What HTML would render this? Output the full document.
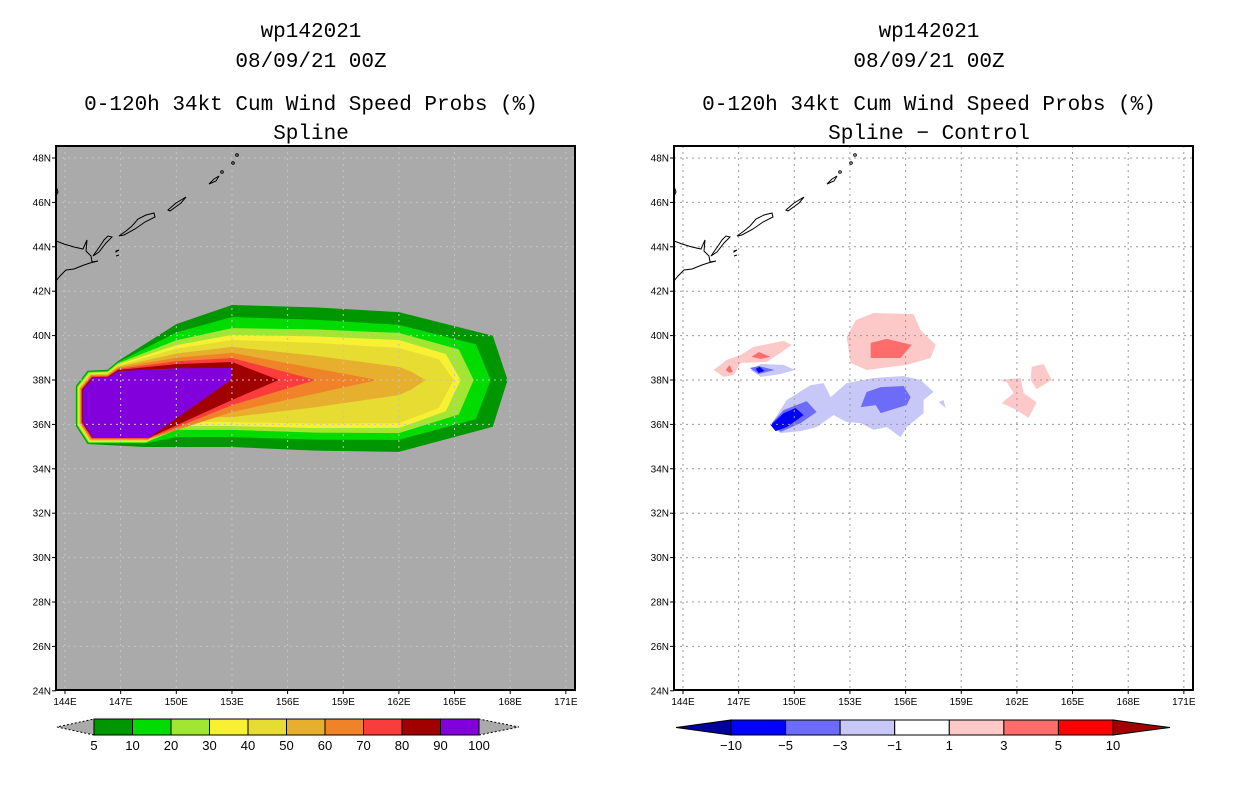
<!DOCTYPE html>
<html><head><meta charset="utf-8"><style>body{margin:0;background:#fff}svg{display:block}</style></head>
<body>
<svg id="svg" width="1236" height="800" xmlns="http://www.w3.org/2000/svg" font-family="Liberation Sans, sans-serif"></svg>
<script>
// ---- data ----
const levelLabels=[5,10,20,30,40,50,60,70,80,90,100];
const levelColors=['#009600','#00dc00','#a0e632','#f8f032','#e6dc32','#e6af2d','#f08228','#fa3c3c','#a00000','#8200dc'];
const topAt153=[41.38,40.84,40.34,40.03,39.8,39.49,39.22,38.99,38.81,38.54];
const topAt162=[41.06,40.48,40.12,39.8,39.44,38.59,null,null,null,null];
const tipLon=[167.86,166.95,166.03,165.33,164.95,163.44,160.85,157.51,155.52,152.93];
const botAt153=[34.98,35.43,35.75,35.93,36.11,36.33,36.56,36.87,37.1,37.95];
const botAt162=[34.76,35.3,35.61,35.84,36.06,37.32,null,null,null,null];
const diffLabels=['-10','-5','-3','-1','1','3','5','10'];
const diffColors=['#0000a0','#0000ff','#6c6cf8','#c8c8f8','#ffffff','#fcc8c8','#ff6c6c','#ff0000','#a00000'];
const diffBlobs=[
 {c:'#fcc8c8',p:[[152.82,39.94],[153.31,40.7],[154.28,41.02],[156.43,40.97],[156.81,40.25],[157.62,39.58],[157.35,38.99],[156.06,38.68],[153.9,38.45],[153.04,38.77]]},
 {c:'#ff6c6c',p:[[154.12,39.67],[154.98,39.85],[156.33,39.58],[155.73,38.99],[154.12,38.99]]},
 {c:'#fcc8c8',p:[[145.65,38.45],[146.35,38.9],[147.11,39.13],[147.81,39.49],[149.43,39.76],[149.86,39.58],[149.26,39.22],[148.51,38.81],[147.11,38.77],[146.73,38.23],[146.19,38.14]]},
 {c:'#ff6c6c',p:[[147.7,39.04],[148.08,39.26],[148.73,39.04],[148.19,38.95]]},
 {c:'#ff6c6c',p:[[146.3,38.45],[146.51,38.68],[146.68,38.36],[146.51,38.32]]},
 {c:'#c8c8f8',p:[[147.65,38.45],[148.19,38.72],[149.43,38.68],[150.02,38.45],[149.26,38.27],[148.19,38.14]]},
 {c:'#6c6cf8',p:[[147.6,38.54],[148.08,38.63],[148.94,38.45],[148.08,38.27]]},
 {c:'#0000ff',p:[[147.92,38.5],[148.13,38.59],[148.4,38.41],[148.08,38.32]]},
 {c:'#c8c8f8',p:[[148.73,35.97],[149.59,37.1],[150.88,37.77],[151.58,37.86],[151.96,37.23],[152.82,37.86],[154.28,38.09],[155.89,38.18],[156.81,38],[157.51,37.46],[156.97,37.1],[156.97,36.51],[156.06,35.88],[155.73,35.43],[154.98,35.88],[154.28,35.75],[153.58,36.06],[152.82,36.11],[152.12,36.42],[151.2,35.88],[150.34,35.7],[149.26,35.61]]},
 {c:'#6c6cf8',p:[[148.78,36.06],[149.43,36.65],[150.67,37.05],[151.2,36.56],[150.34,36.06],[149.26,35.66]]},
 {c:'#0000ff',p:[[148.73,35.97],[149.43,36.51],[150.07,36.74],[150.5,36.42],[149.59,35.88],[148.99,35.7]]},
 {c:'#6c6cf8',p:[[153.58,36.78],[153.9,37.46],[154.66,37.68],[155.89,37.73],[156.27,37.23],[156.06,36.87],[154.66,36.51],[154.39,36.87]]},
 {c:'#c8c8f8',p:[[157.78,37.0],[158.05,37.1],[158.16,36.74]]},
 {c:'#fcc8c8',p:[[162.8,38.59],[163.44,38.72],[163.87,38],[163.06,37.59],[162.74,38]]},
 {c:'#fcc8c8',p:[[161.02,38],[162.2,38.09],[162.36,37.41],[163.06,37.0],[162.63,36.29],[161.99,36.65],[161.18,36.96],[161.83,37.41],[161.45,37.91]]}
];
const lonTicks=[144,147,150,153,156,159,162,165,168,171];
const latTicks=[24,26,28,30,32,34,36,38,40,42,44,46,48];

const NS='http://www.w3.org/2000/svg';
const svg=document.getElementById('svg');
function mk(tag,attrs,parent){const e=document.createElementNS(NS,tag);for(const k in attrs)e.setAttribute(k,attrs[k]);(parent||svg).appendChild(e);return e;}
const FT=146,FB=690,FW=519;
function X(off,lon){return off+9+(lon-144)*18.55;}
function Y(lat){return 380-(lat-38)*22.2;}
function pts(off,arr){return arr.map(p=>X(off,p[0]).toFixed(1)+','+Y(p[1]).toFixed(1)).join(' ');}

function levelPoly(k){
 const o=9-k, P=[];
 P.push([144.95-o*0.04,37.55+o*0.02]);
 P.push([145.49-o*0.03,38.1+o*0.035]);
 P.push([146.3,38.1+o*0.04]);
 P.push([146.85,38.4+o*0.05]);
 P.push([150,38.5+(topAt153[k]-38.5)*0.7]);
 P.push([153,topAt153[k]]);
 if(topAt162[k]!==null){
  P.push([157.5,(topAt153[k]+topAt162[k])/2+0.05]);
  P.push([162,topAt162[k]]);
  P.push([tipLon[k]-0.8,38+(topAt162[k]-38)*0.65]);
  P.push([tipLon[k],38]);
  P.push([tipLon[k]-0.8,38-(38-botAt162[k])*0.65]);
  P.push([162,botAt162[k]]);
  P.push([157.5,(botAt153[k]+botAt162[k])/2-0.05]);
  P.push([153,botAt153[k]]);
  P.push([150,botAt153[k]]);
  P.push([148.56-o*0.03,Math.min(botAt153[k],35.43-o*0.035)]);
 } else {
  P.push([tipLon[k],38]);
  if(k<9)P.push([153,botAt153[k]]);
  P.push([148.56-o*0.03,35.43-o*0.035]);
 }
 P.push([145.49-o*0.03,35.43-o*0.035]);
 P.push([144.95-o*0.04,36.11-o*0.02]);
 return P;
}

function coast(off,g){
 const paths=['M56,241 L64,244 L74,247 L83,249 L87,240 L86,251 L91,256 L92,262 L98,261 L90,263 L84,265 L74,269 L66,270 L60,276 L56,281',
 'M93,256 L100,246 L104,240 L108,236 L112,237 L106,243 L99,252 Z',
 'M119,236 L126,231 L132,226 L138,219 L146,215 L154,213 L155,217 L145,222 L135,229 L124,235 Z',
 'M168,210 L176,203 L186,197 L181,203 L170,211 Z',
 'M209,184 L214,179 L219,176 L216,181 Z',
 'M116,251 L119,250 L116,252 Z','M116,256 L119,255 Z','M56,186 L58,192 L56,196'];
 const cg=mk('g',{transform:'translate('+off+',0)',},g);
 paths.forEach(d=>mk('path',{d:d,fill:'none',stroke:'#000','stroke-width':1},cg));
 [[222,172],[233,163],[237,155]].forEach(p=>mk('circle',{cx:p[0],cy:p[1],r:1.3,fill:'none',stroke:'#000','stroke-width':1},cg));
}

function panel(off,name,sub,isDiff){
 const g=mk('g',{});
 const cx=off+255;
 [['wp142021',30,'storm-id-title'],['08/09/21 00Z',60,'date-title'],['0-120h 34kt Cum Wind Speed Probs (%)',103,'chart-title'],[sub,132,'chart-subtitle']].forEach((t,i)=>{
  const e=mk('text',{x:cx,y:t[1]+7,'text-anchor':'middle','font-size':21,'font-family':'Liberation Mono, monospace',fill:'#000'},g);
  
  
  e.textContent=t[0];
 });
 const cid='clip'+off;
 const cp=mk('clipPath',{id:cid},g);mk('rect',{x:off,y:FT,width:FW,height:FB-FT},cp);
 const plot=mk('g',{'clip-path':'url(#'+cid+')',},g);
 mk('rect',{x:off,y:FT,width:FW,height:FB-FT,fill:isDiff?'#fff':'#aaaaaa'},plot);
 if(!isDiff){
  for(let k=0;k<10;k++){
   const e=mk('polygon',{points:pts(off,levelPoly(k)),fill:levelColors[k]},plot);
   
   
  }
 } else {
  diffBlobs.forEach((b,i)=>{
   const e=mk('polygon',{points:pts(off,b.p),fill:b.c},plot);
   
   
  });
 }
 const gc=isDiff?'#999':'#c4c4c4';
 lonTicks.forEach(l=>mk('line',{x1:X(off,l),x2:X(off,l),y1:FT,y2:FB,stroke:gc,'stroke-dasharray':'2,4','stroke-width':1},plot));
 latTicks.forEach(l=>mk('line',{x1:off,x2:off+FW,y1:Y(l),y2:Y(l),stroke:gc,'stroke-dasharray':'2,4','stroke-width':1},plot));
 coast(off-56,plot);
 mk('rect',{x:off,y:FT,width:FW,height:FB-FT,fill:'none',stroke:'#000','stroke-width':2,},g);
 lonTicks.forEach(l=>{
  mk('line',{x1:X(off,l),x2:X(off,l),y1:FB,y2:FB+4,stroke:'#000'},g);
  const t=mk('text',{x:X(off,l),y:FB+15,'text-anchor':'middle','font-size':10,fill:'#000'},g);
  
  
  t.textContent=l+'E';
 });
 latTicks.forEach(l=>{
  mk('line',{x1:off-4,x2:off,y1:Y(l),y2:Y(l),stroke:'#000'},g);
  const t=mk('text',{x:off-5,y:Y(l)+3.5,'text-anchor':'end','font-size':10,fill:'#000'},g);
  
  
  t.textContent=l+'N';
 });
 return g;
}

panel(56,'left-panel','Spline',false);
panel(674,'right-panel','Spline \u2212 Control',true);

// left colorbar
(function(){
 const g=mk('g',{});
 const x0=94,x1=479,y0=719,y1=735,w=(x1-x0)/10;
 mk('polygon',{points:`${x0},${y0} ${x0},${y1} 57,727`,fill:'#aaa',stroke:'#000','stroke-dasharray':'2,2'},g);
 mk('polygon',{points:`${x1},${y0} ${x1},${y1} 519,727`,fill:'#aaa',stroke:'#000','stroke-dasharray':'2,2'},g);
 levelColors.forEach((c,i)=>mk('rect',{x:x0+i*w,y:y0,width:w,height:y1-y0,fill:c,stroke:'#000','stroke-width':1},g));
 levelLabels.forEach((v,i)=>{const t=mk('text',{x:x0+i*w,y:750,'text-anchor':'middle','font-size':13,fill:'#000'},g);
  
  
  t.textContent=v;});
})();
// right colorbar
(function(){
 const g=mk('g',{});
 const x0=731,x1=1113,y0=720,y1=735,w=(x1-x0)/7;
 mk('polygon',{points:`${x0},${y0} ${x0},${y1} 676,727.5`,fill:diffColors[0],stroke:'#000'},g);
 mk('polygon',{points:`${x1},${y0} ${x1},${y1} 1170,727.5`,fill:diffColors[8],stroke:'#000'},g);
 for(let i=0;i<7;i++)mk('rect',{x:x0+i*w,y:y0,width:w,height:y1-y0,fill:diffColors[i+1],stroke:'#000','stroke-width':1},g);
 diffLabels.forEach((v,i)=>{const t=mk('text',{x:x0+i*w,y:750,'text-anchor':'middle','font-size':13,fill:'#000'},g);
  
  
  t.textContent=v.replace('-','\u2212');});
})();
</script>
</body></html>
